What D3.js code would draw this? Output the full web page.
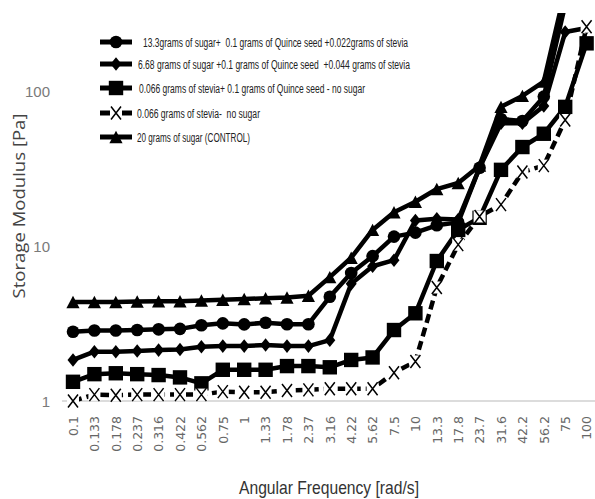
<!DOCTYPE html>
<html>
<head>
<meta charset="utf-8">
<script src="https://cdn.jsdelivr.net/npm/d3@7"></script>
<style>
  html, body { margin: 0; padding: 0; background: #fff; }
  svg { display: block; }
</style>
</head>
<body>
<svg id="chart" width="595" height="499"></svg>
<script>
const categories = ["0.1","0.133","0.178","0.237","0.316","0.422","0.562","0.75","1","1.33","1.78","2.37","3.16","4.22","5.62","7.5","10","13.3","17.8","23.7","31.6","42.2","56.2","75","100"];

const sugar13 = [2.8,2.85,2.85,2.87,2.9,2.92,3.08,3.17,3.12,3.2,3.13,3.13,4.7,6.7,8.6,11.5,12.2,13.6,14.2,32,66,64,92,360,700];
const sugar668 = [1.84,2.08,2.08,2.1,2.13,2.15,2.24,2.26,2.26,2.3,2.26,2.26,2.47,5.7,7.4,8.1,14.6,15,14.8,32,62,62,80,240,255];
const steviaQuince = [1.33,1.49,1.51,1.49,1.47,1.42,1.3,1.59,1.59,1.59,1.68,1.68,1.65,1.84,1.91,2.87,3.68,8.0,12.7,15.2,31,43.5,53,79,203];
const steviaOnly = [1.0,1.1,1.09,1.1,1.1,1.1,1.1,1.15,1.14,1.14,1.17,1.18,1.2,1.2,1.2,1.52,1.8,5.4,10.2,15.5,18.5,30,33,65,260];
const control = [4.35,4.35,4.35,4.38,4.4,4.4,4.45,4.5,4.55,4.6,4.65,4.78,6.3,8.4,12.7,16.5,19.3,23.3,25.5,33,79,93,115,450,800];

const seriesNames = [
  "13.3grams of sugar+  0.1 grams of Quince seed +0.022grams of stevia",
  "6.68 grams of sugar +0.1 grams of Quince seed  +0.044 grams of stevia",
  "0.066 grams of stevia+ 0.1 grams of Quince seed - no sugar",
  "0.066 grams of stevia-  no sugar",
  "20 grams of sugar (CONTROL)"
];
const yTicks = [1, 10, 100];

const series = [
  {name: seriesNames[0], values: sugar13, marker: "circle", dash: null, legendW: 265, legendX: 143},
  {name: seriesNames[1], values: sugar668, marker: "diamond", dash: null, legendW: 272, legendX: 138},
  {name: seriesNames[2], values: steviaQuince, marker: "square", dash: null, legendW: 226, legendX: 139},
  {name: seriesNames[3], values: steviaOnly, marker: "x", dash: "9,5", legendW: 123, legendX: 137},
  {name: seriesNames[4], values: control, marker: "triangle", dash: null, legendW: 113, legendX: 137}
];

const svg = d3.select("#chart");
const x = d3.scalePoint().domain(categories).range([73, 586.6]);
const y = d3.scaleLog().domain([1, 1000]).range([401, 401 - 3 * 155]);

svg.append("defs").append("clipPath").attr("id", "plotclip")
  .append("rect").attr("x", 50).attr("y", 13).attr("width", 545).attr("height", 420);

// axis line
svg.append("line")
  .attr("x1", 62).attr("x2", 595).attr("y1", y(1)).attr("y2", y(1))
  .attr("stroke", "#d0d0d0").attr("stroke-width", 1.5);

// Y axis labels
const yAxis = d3.axisLeft(y).tickValues(yTicks).tickSize(0).tickPadding(0).tickFormat(d3.format("d"));
const gy = svg.append("g").attr("transform", "translate(50,0)").call(yAxis);
gy.select(".domain").remove();
gy.selectAll("text")
  .attr("font-family", "'Liberation Sans Narrow','Arial Narrow',sans-serif")
  .attr("font-size", 15).attr("fill", "#7a7a7a").attr("dy", "0.35em");

// X axis labels
const xAxis = d3.axisBottom(x).tickSize(0).tickPadding(0);
const gx = svg.append("g").attr("transform", "translate(0,401)").call(xAxis);
gx.select(".domain").remove();
gx.selectAll("text")
  .attr("font-family", "'DejaVu Sans',sans-serif")
  .attr("font-size", 12.5).attr("fill", "#666")
  .attr("transform", "rotate(-90)")
  .attr("text-anchor", "end")
  .attr("x", -15).attr("y", 0).attr("dy", "0.35em");

// axis titles
svg.append("text")
  .attr("transform", "translate(25,206) rotate(-90)")
  .attr("text-anchor", "middle")
  .attr("font-family", "'Open Sans',sans-serif").attr("font-size", 15.5)
  .attr("fill", "#444")
  .attr("textLength", 185).attr("lengthAdjust", "spacingAndGlyphs")
  .text("Storage Modulus [Pa]");

svg.append("text")
  .attr("x", 329).attr("y", 494)
  .attr("text-anchor", "middle")
  .attr("font-family", "'Liberation Sans Narrow','Arial Narrow',sans-serif").attr("font-size", 18.5)
  .attr("fill", "#333")
  .attr("textLength", 180).attr("lengthAdjust", "spacingAndGlyphs")
  .text("Angular Frequency [rad/s]");

function drawMarker(g, type, cx, cy, scale) {
  const s = scale || 1;
  if (type === "circle") {
    g.append("circle").attr("cx", cx).attr("cy", cy).attr("r", 6.3 * s).attr("fill", "#000");
  } else if (type === "diamond") {
    const w = 5.5 * s, h = 6.8 * s;
    g.append("path").attr("d", `M${cx},${cy - h}L${cx + w},${cy}L${cx},${cy + h}L${cx - w},${cy}Z`).attr("fill", "#000");
  } else if (type === "square") {
    const a = 7.2 * s;
    g.append("rect").attr("x", cx - a).attr("y", cy - a).attr("width", 2 * a).attr("height", 2 * a).attr("fill", "#000");
  } else if (type === "triangle") {
    const w = 6.6 * s, h = 6.2 * s;
    g.append("path").attr("d", `M${cx},${cy - h}L${cx + w},${cy + h}L${cx - w},${cy + h}Z`).attr("fill", "#000");
  } else if (type === "x") {
    const a = 6 * s, b = 5 * s, c = 6.5 * s;
    g.append("rect").attr("x", cx - a).attr("y", cy - a).attr("width", 2 * a).attr("height", 2 * a).attr("fill", "#fff");
    g.append("path").attr("d", `M${cx - b},${cy - c}L${cx + b},${cy + c}M${cx + b},${cy - c}L${cx - b},${cy + c}`)
      .attr("stroke", "#000").attr("stroke-width", 1.5).attr("fill", "none");
  }
}

const plot = svg.append("g").attr("clip-path", "url(#plotclip)");
const line = d3.line().x((d, i) => x(categories[i])).y(d => y(d));

series.forEach(s => {
  const g = plot.append("g");
  g.append("path").datum(s.values)
    .attr("d", line)
    .attr("fill", "none").attr("stroke", "#000").attr("stroke-width", 4.5)
    .attr("stroke-linejoin", "round")
    .attr("stroke-dasharray", s.dash);
  s.values.forEach((v, i) => drawMarker(g, s.marker, x(categories[i]), y(v)));
});

// legend
const legendRows = [42, 64, 88, 113, 137];
series.forEach((s, i) => {
  const g = svg.append("g");
  const ly = legendRows[i];
  g.append("line").attr("x1", 100).attr("x2", 132).attr("y1", ly).attr("y2", ly)
    .attr("stroke", "#000").attr("stroke-width", 5);
  drawMarker(g, s.marker, 116, ly, 1);
  g.append("text").attr("x", s.legendX).attr("y", ly + 4.5)
    .attr("font-family", "'Liberation Sans Narrow','Arial Narrow',sans-serif")
    .attr("font-size", 12.5).attr("fill", "#222")
    .attr("textLength", s.legendW).attr("lengthAdjust", "spacingAndGlyphs")
    .attr("xml:space", "preserve")
    .text(s.name);
});
</script>
</body>
</html>
